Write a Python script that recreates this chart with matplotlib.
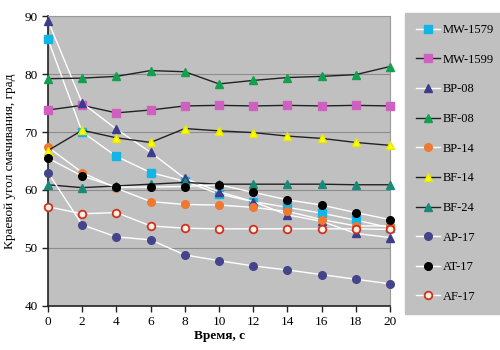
import matplotlib
matplotlib.use("Agg")
import matplotlib.pyplot as plt
from matplotlib.lines import Line2D

time = [0, 2, 4, 6, 8, 10, 12, 14, 16, 18, 20]

mw1579 = [86.0, 70.0, 65.8, 63.0, 61.5, 59.3, 58.0, 57.0, 56.0, 54.8, 53.5]
mw1599 = [73.8, 74.6, 73.3, 73.8, 74.5, 74.6, 74.5, 74.6, 74.5, 74.6, 74.5]
bp08 = [89.2, 75.0, 70.5, 66.5, 62.0, 59.7, 58.0, 55.7, 54.6, 52.5, 51.8]
bf08 = [79.2, 79.3, 79.6, 80.6, 80.4, 78.3, 78.9, 79.4, 79.6, 79.9, 81.3]
bp14 = [67.4, 63.0, 60.3, 58.0, 57.5, 57.4, 57.0, 56.3, 54.9, 53.8, 53.8]
bf14 = [66.8, 70.3, 69.0, 68.2, 70.6, 70.2, 69.9, 69.3, 68.9, 68.2, 67.7]
bf24 = [60.9, 60.4, 60.7, 61.0, 61.3, 61.0, 61.0, 61.0, 61.0, 60.9, 60.9]
ap17 = [63.0, 54.0, 51.9, 51.4, 48.8, 47.8, 46.9, 46.2, 45.4, 44.6, 43.8]
at17 = [65.5, 62.4, 60.5, 60.5, 60.6, 60.9, 59.6, 58.3, 57.4, 56.1, 54.9]
af17 = [57.1, 55.9, 56.1, 53.8, 53.4, 53.3, 53.3, 53.3, 53.3, 53.3, 53.2]

names = ["MW-1579", "MW-1599", "BP-08", "BF-08", "BP-14", "BF-14", "BF-24", "AP-17", "AT-17", "AF-17"]
values = [mw1579, mw1599, bp08, bf08, bp14, bf14, bf24, ap17, at17, af17]

yticks = [40, 50, 60, 70, 80, 90]
xticks = [0, 2, 4, 6, 8, 10, 12, 14, 16, 18, 20]

styles = [
    dict(marker="s", color="white", mfc="#12b5e8", mec="#12b5e8", ms=5.5),
    dict(marker="s", color="#222222", mfc="#d060c0", mec="#d060c0", ms=5.5),
    dict(marker="^", color="white", mfc="#3c3c8c", mec="#3c3c8c", ms=6),
    dict(marker="^", color="#222222", mfc="#10a050", mec="#10a050", ms=6),
    dict(marker="o", color="white", mfc="#f07830", mec="#f07830", ms=5.5),
    dict(marker="^", color="#222222", mfc="#ffff00", mec="#e8e800", ms=6),
    dict(marker="^", color="#222222", mfc="#1a8a78", mec="#1a8a78", ms=6),
    dict(marker="o", color="white", mfc="#44448c", mec="#44448c", ms=5.5),
    dict(marker="o", color="white", mfc="black", mec="black", ms=5.5),
    dict(marker="o", color="white", mfc="#fff0e0", mec="#d03020", ms=5.5, mew=1.3),
]

plt.rcParams['font.family'] = ['Liberation Serif', 'DejaVu Serif']

fig = plt.figure(figsize=(5, 3.5), dpi=100)
ax = fig.add_axes([0.096, 0.126, 0.684, 0.828])
ax.set_facecolor("#c0c0c0")

for v, st in zip(values, styles):
    st = dict(st)
    col = st.pop("color")
    ax.plot(time, v, color=col, lw=1.0, clip_on=False, zorder=3, **st)

ax.set_xlim(0, 20)
ax.set_ylim(40, 90)
ax.set_xticks(xticks)
ax.set_yticks(yticks)
ax.yaxis.grid(True, color="#8c8c8c", lw=0.8)
ax.set_axisbelow(True)
ax.tick_params(labelsize=9.5, length=4, width=1, color="#222222")
for s in ["top", "right"]:
    ax.spines[s].set_color("#999999")
for s in ["left", "bottom"]:
    ax.spines[s].set_color("#222222")
    ax.spines[s].set_linewidth(1.2)

ax.set_xlabel("Время, с", fontsize=9.5, fontweight="bold", labelpad=1)
ax.set_ylabel("Краевой угол смачивания, град", fontsize=9.5, labelpad=6)

handles = []
for n, st in zip(names, styles):
    st = dict(st)
    col = st.pop("color")
    handles.append(Line2D([], [], color=col, lw=1.0, label=n, **st))

leg = fig.legend(handles=handles, loc="upper left", frameon=True, fontsize=9,
                 handlelength=1.9, labelspacing=1.41, borderpad=0.9,
                 handletextpad=0.2, fancybox=False, borderaxespad=0,
                 bbox_to_anchor=(0.81, 0.963))
leg.get_frame().set_facecolor("#c0c0c0")
leg.get_frame().set_edgecolor("#c0c0c0")
leg.get_frame().set_alpha(1)

fig.savefig("out.png", dpi=100, facecolor="white")
